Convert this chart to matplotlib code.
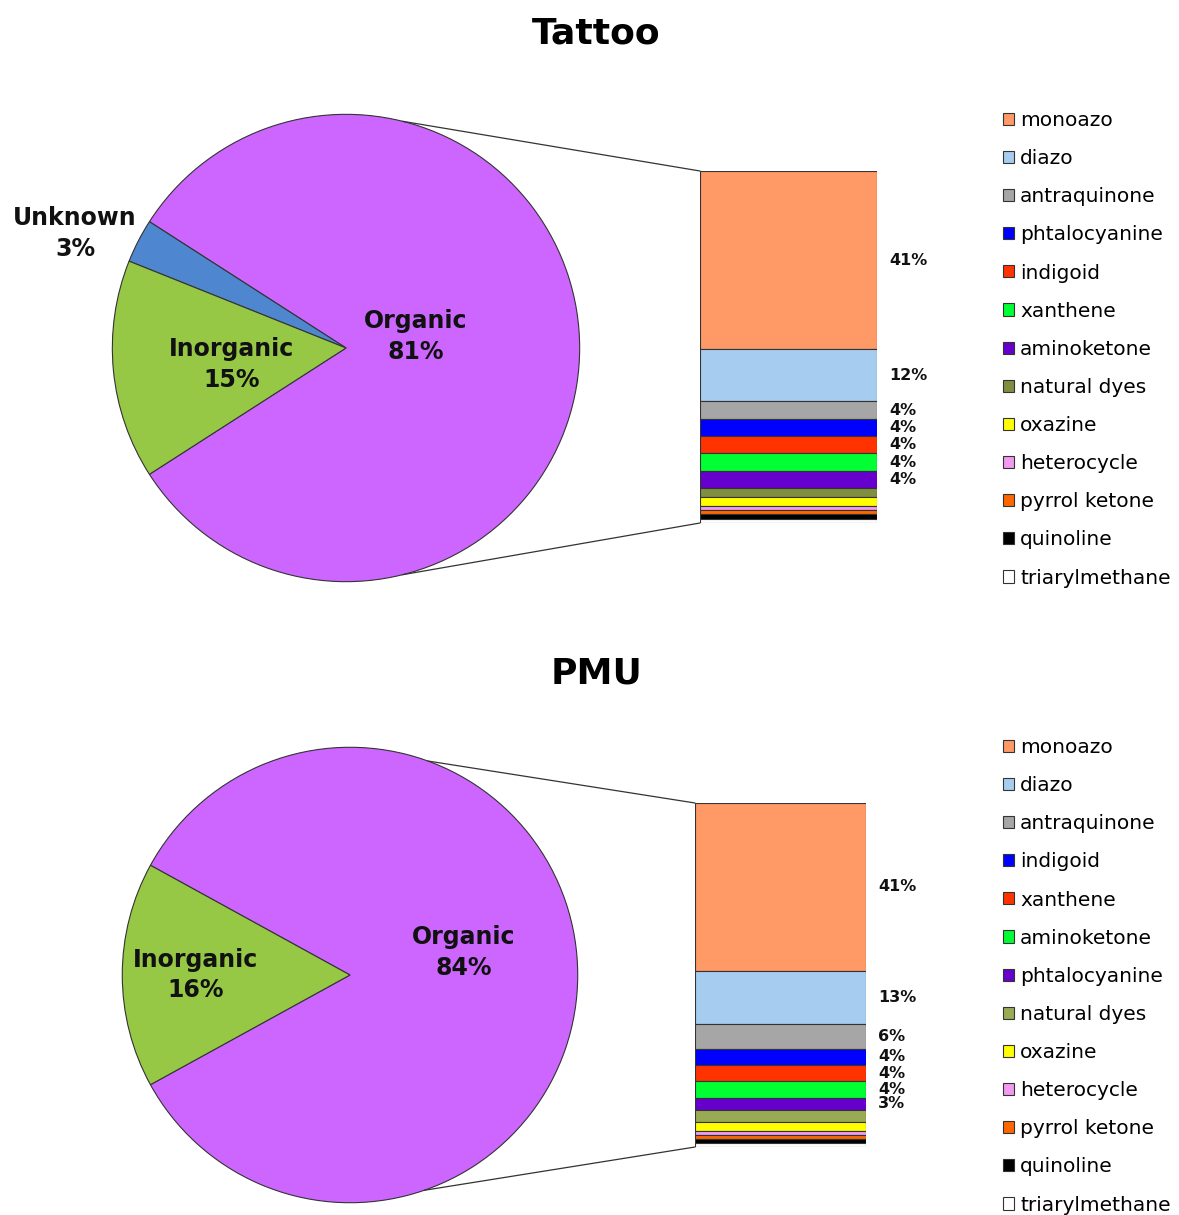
import numpy as np
import matplotlib
matplotlib.use("Agg")
import matplotlib.pyplot as plt
from matplotlib.patches import ConnectionPatch

# === Data ===
tattoo_pie_labels = ["Organic", "Unknown", "Inorganic"]
tattoo_pie_values = [81, 3, 15]
pmu_pie_labels = ["Organic", "Inorganic"]
pmu_pie_values = [84, 16]

tattoo_classes = ["monoazo", "diazo", "antraquinone", "phtalocyanine", "indigoid",
                  "xanthene", "aminoketone", "natural dyes", "oxazine", "heterocycle",
                  "pyrrol ketone", "quinoline", "triarylmethane"]
tattoo_values = [41, 12, 4, 4, 4, 4, 4, 2, 2, 1, 1, 1, 1]

pmu_classes = ["monoazo", "diazo", "antraquinone", "indigoid", "xanthene",
               "aminoketone", "phtalocyanine", "natural dyes", "oxazine", "heterocycle",
               "pyrrol ketone", "quinoline", "triarylmethane"]
pmu_values = [41, 13, 6, 4, 4, 4, 3, 3, 2, 1, 1, 1, 1]

n_labelled = 7  # only the first seven segments carry a % label

# colours go by position in the stack
bar_colors = ["#FF9966", "#A6CDF0", "#A6A6A6", "#0000FF", "#FF3300", "#00FF33",
              "#6600CC", "#7F8F3F", "#FFFF00", "#F09AF0", "#FF6600", "#000000", "#FFFFFF"]
pmu_bar_colors = bar_colors[:7] + ["#99AA55"] + bar_colors[8:]
pie_colors = {"Organic": "#CC66FF", "Inorganic": "#96C846", "Unknown": "#4F86D0"}

W, H = 1179, 1215
fig = plt.figure(figsize=(W / 100, H / 100), dpi=100)
fig.patch.set_facecolor("white")


def px_axes(x0, y0, x1, y1):
    # axes from pixel box (top-left origin)
    return fig.add_axes([x0 / W, 1 - y1 / H, (x1 - x0) / W, (y1 - y0) / H])


def draw_panel(title, title_y, pie_box, pie_labels, pie_values, label_pos,
               bar_box, classes, values, colors, leg_top, angles):
    fig.text(0.506, 1 - title_y / H, title, ha="center", va="center",
             fontsize=26, fontweight="bold")

    # --- pie ---
    ax = px_axes(*pie_box)
    org_frac = pie_values[0] / sum(pie_values)
    start = -180 * org_frac
    ax.pie(pie_values, colors=[pie_colors[l] for l in pie_labels], startangle=start,
           counterclock=True, radius=1,
           wedgeprops=dict(edgecolor="#333333", linewidth=0.8))
    ax.set_xlim(-1.01, 1.01)
    ax.set_ylim(-1.01, 1.01)
    ax.set_aspect("equal")
    ax.axis("off")
    for lab, val, (lx, ly) in zip(pie_labels, pie_values, label_pos):
        ax.text(lx, ly, f"{lab}\n{val}%", ha="center", va="center",
                fontsize=17, fontweight="bold", color="#111111", linespacing=1.35)

    # --- stacked bar ---
    bx = px_axes(*bar_box)
    total = sum(values)
    tops = total - np.concatenate([[0], np.cumsum(values)[:-1]])
    handles = []
    for i, (name, v, top, c) in enumerate(zip(classes, values, tops, colors)):
        b = bx.bar(0, v, bottom=top - v, width=1, color=c, edgecolor="#333333",
                   linewidth=0.8, label=name)
        handles.append(b[0])
        if i < n_labelled:
            bx.text(0.57, top - v / 2, f"{v}%", ha="left", va="center",
                    fontsize=11.5, fontweight="bold", color="#111111")
    bx.set_xlim(-0.5, 0.5)
    bx.set_ylim(0, total)
    bx.axis("off")

    # --- connecting lines ---
    for ang, yb in zip(angles, [total, 0]):
        a = np.deg2rad(ang)
        con = ConnectionPatch(xyA=(np.cos(a), np.sin(a)), coordsA=ax.transData,
                              xyB=(-0.5, yb), coordsB=bx.transData,
                              color="#333333", linewidth=0.9)
        fig.add_artist(con)

    fig.legend(handles=handles, labels=classes, loc="upper left",
               bbox_to_anchor=(1003 / W, 1 - leg_top / H), frameon=False,
               fontsize=14.5, handlelength=0.55, handleheight=0.55,
               handletextpad=0.3, labelspacing=0.95, borderaxespad=0,
               borderpad=0)


draw_panel("Tattoo", 33, (110, 112, 582, 584), tattoo_pie_labels, tattoo_pie_values,
           [(0.30, 0.05), (-1.16, 0.49), (-0.49, -0.07)],
           (700, 171, 877, 523), tattoo_classes, tattoo_values, bar_colors, 111,
           [76, -76])

draw_panel("PMU", 673, (120, 745, 580, 1205), pmu_pie_labels, pmu_pie_values,
           [(0.50, 0.10), (-0.68, 0.0)],
           (695, 803, 866, 1147), pmu_classes, pmu_values, pmu_bar_colors, 738,
           [70, -71])

fig.savefig("out.png", dpi=100)
